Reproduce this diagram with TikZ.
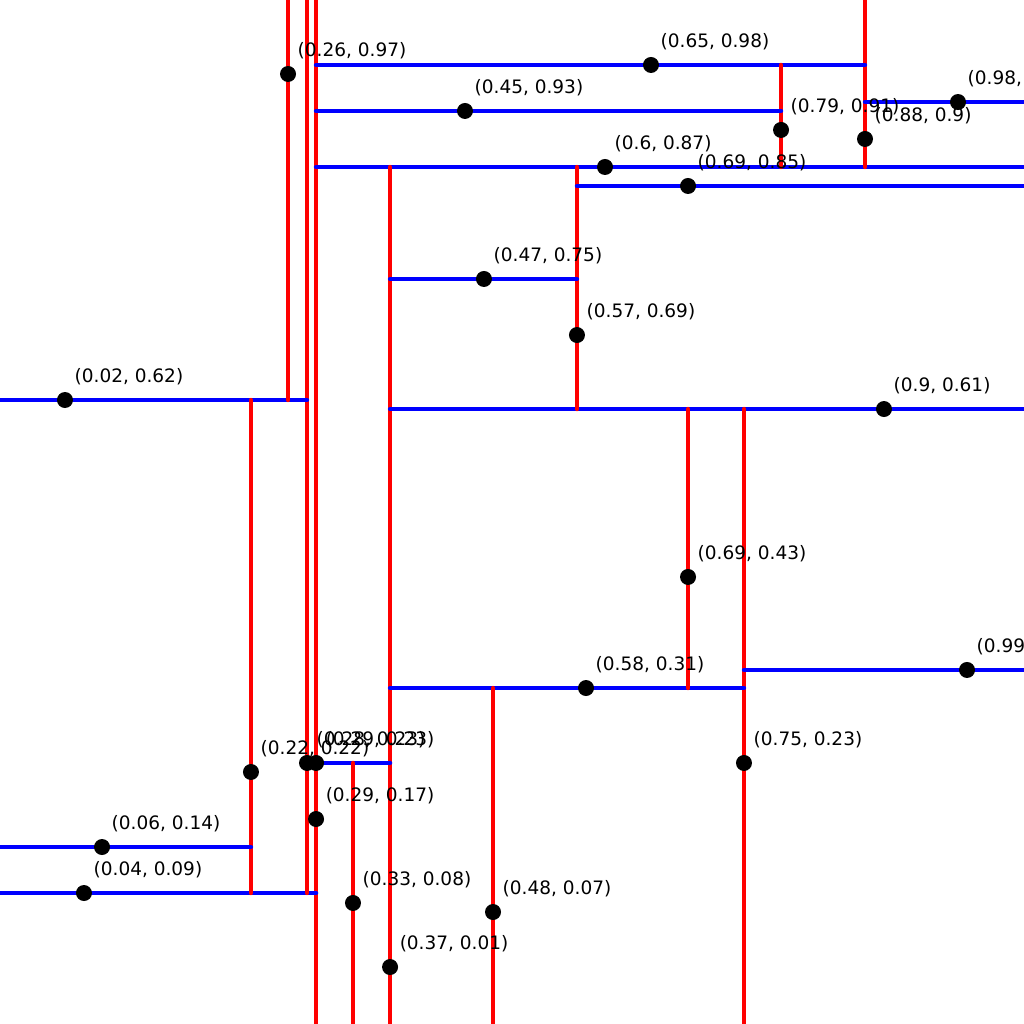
\documentclass[tikz,border=0pt]{standalone}
\usepackage{fontspec}
\setmainfont{DejaVu Sans}
\begin{document}
\begin{tikzpicture}[
  x=930.9pt, y=930.9pt,
  xcut/.style={draw=red, line width=4.4pt, line cap=round},
  ycut/.style={draw=blue, line width=4.4pt, line cap=round},
  kdpoint/.style={circle, fill=black, inner sep=0pt, minimum size=16pt},
  ptlabel/.style={anchor=base west, inner sep=0pt, font=\fontsize{18.5pt}{22pt}\selectfont}
]
\coordinate (lo) at (-0.05,-0.05);
\coordinate (hi) at (1.05,1.05);
\useasboundingbox (lo) rectangle (hi);
\fill[white] (lo) rectangle (hi);
\clip (lo) rectangle (hi);

% points of the tree
\coordinate (p2917) at (0.2895,0.1702);
\coordinate (p0409) at (0.0402,0.0907);
\coordinate (p2823) at (0.2798,0.2304);
\coordinate (p0262) at (0.0198,0.6203);
\coordinate (p2697) at (0.2594,0.9705);
\coordinate (p2222) at (0.2196,0.2207);
\coordinate (p0614) at (0.0596,0.1401);
\coordinate (p6087) at (0.5999,0.8706);
\coordinate (p8890) at (0.8792,0.9007);
\coordinate (p6598) at (0.6493,0.9802);
\coordinate (p7991) at (0.7890,0.9104);
\coordinate (p4593) at (0.4495,0.9308);
\coordinate (p9894) at (0.9791,0.9404);
\coordinate (p3701) at (0.3690,0.0112);
\coordinate (p2923) at (0.2895,0.2304);
\coordinate (p3308) at (0.3292,0.0800);
\coordinate (p9061) at (0.8996,0.6106);
\coordinate (p5769) at (0.5698,0.6901);
\coordinate (p4775) at (0.4699,0.7503);
\coordinate (p6985) at (0.6891,0.8502);
\coordinate (p7523) at (0.7492,0.2304);
\coordinate (p5831) at (0.5795,0.3109);
\coordinate (p6943) at (0.6891,0.4302);
\coordinate (p4807) at (0.4796,0.0703);
\coordinate (p9933) at (0.9888,0.3303);

% splitting lines
\draw[xcut] (p2917 |- lo) -- (p2917 |- hi);
\draw[ycut] (lo |- p0409) -- (p2917 |- p0409);
\draw[xcut] (p2823 |- p0409) -- (p2823 |- hi);
\draw[ycut] (lo |- p0262) -- (p2823 |- p0262);
\draw[xcut] (p2697 |- p0262) -- (p2697 |- hi);
\draw[xcut] (p2222 |- p0409) -- (p2222 |- p0262);
\draw[ycut] (lo |- p0614) -- (p2222 |- p0614);
\draw[ycut] (p2917 |- p6087) -- (hi |- p6087);
\draw[xcut] (p8890 |- p6087) -- (p8890 |- hi);
\draw[ycut] (p2917 |- p6598) -- (p8890 |- p6598);
\draw[xcut] (p7991 |- p6087) -- (p7991 |- p6598);
\draw[ycut] (p2917 |- p4593) -- (p7991 |- p4593);
\draw[ycut] (p8890 |- p9894) -- (hi |- p9894);
\draw[xcut] (p3701 |- lo) -- (p3701 |- p6087);
\draw[ycut] (p2917 |- p2923) -- (p3701 |- p2923);
\draw[xcut] (p3308 |- lo) -- (p3308 |- p2923);
\draw[ycut] (p3701 |- p9061) -- (hi |- p9061);
\draw[xcut] (p5769 |- p9061) -- (p5769 |- p6087);
\draw[ycut] (p3701 |- p4775) -- (p5769 |- p4775);
\draw[ycut] (p5769 |- p6985) -- (hi |- p6985);
\draw[xcut] (p7523 |- lo) -- (p7523 |- p9061);
\draw[ycut] (p3701 |- p5831) -- (p7523 |- p5831);
\draw[xcut] (p6943 |- p5831) -- (p6943 |- p9061);
\draw[xcut] (p4807 |- lo) -- (p4807 |- p5831);
\draw[ycut] (p7523 |- p9933) -- (hi |- p9933);

% dots and their labels
\foreach \p/\t in {p2917/{(0.29, 0.17)}, p0409/{(0.04, 0.09)}, p2823/{(0.28, 0.23)},
    p0262/{(0.02, 0.62)}, p2697/{(0.26, 0.97)}, p2222/{(0.22, 0.22)},
    p0614/{(0.06, 0.14)}, p6087/{(0.6, 0.87)}, p8890/{(0.88, 0.9)},
    p6598/{(0.65, 0.98)}, p7991/{(0.79, 0.91)}, p4593/{(0.45, 0.93)},
    p9894/{(0.98, 0.94)}, p3701/{(0.37, 0.01)}, p2923/{(0.29, 0.23)},
    p3308/{(0.33, 0.08)}, p9061/{(0.9, 0.61)}, p5769/{(0.57, 0.69)},
    p4775/{(0.47, 0.75)}, p6985/{(0.69, 0.85)}, p7523/{(0.75, 0.23)},
    p5831/{(0.58, 0.31)}, p6943/{(0.69, 0.43)}, p4807/{(0.48, 0.07)},
    p9933/{(0.99, 0.33)}} {
  \node[kdpoint] at (\p) {};
  \node[ptlabel] at ([xshift=9.5pt, yshift=17.5pt]\p) {\t};
}
\end{tikzpicture}
\end{document}
